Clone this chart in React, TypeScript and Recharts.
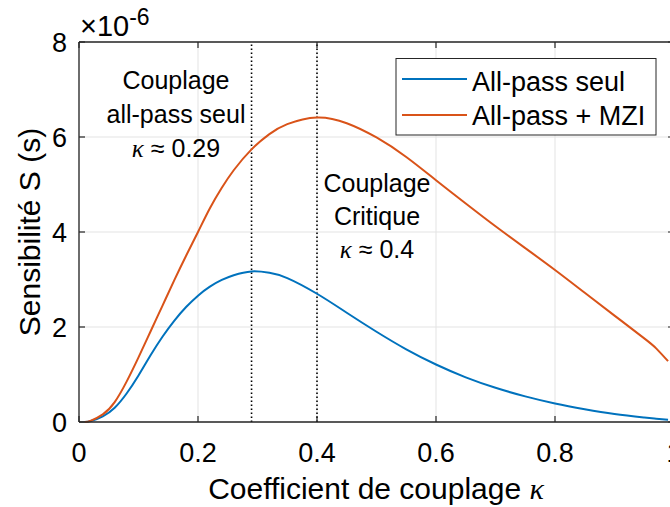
import { LineChart, Line, XAxis, YAxis, CartesianGrid, ReferenceLine } from "recharts";

// coupling coefficient (x) and sensitivity in units of 1e-6 s
const KAPPA = [
  0.01, 0.02, 0.04, 0.06, 0.08, 0.1, 0.12, 0.14, 0.16, 0.18, 0.2, 0.22, 0.24, 0.26, 0.29,
  0.32, 0.35, 0.4, 0.45, 0.5, 0.55, 0.6, 0.65, 0.7, 0.75, 0.8, 0.85, 0.9, 0.95, 0.97, 0.99,
];
const ALLPASS_SEUL = [
  0.0, 0.02, 0.12, 0.3, 0.6, 0.98, 1.4, 1.79, 2.13, 2.42, 2.66, 2.85, 2.99, 3.09, 3.17,
  3.14, 3.03, 2.7, 2.3, 1.9, 1.53, 1.21, 0.94, 0.72, 0.54, 0.39, 0.27, 0.17, 0.095, 0.068, 0.045,
];
const ALLPASS_MZI = [
  0.0, 0.03, 0.16, 0.42, 0.85, 1.36, 1.9, 2.44, 2.98, 3.5, 4.0, 4.5, 4.93, 5.3, 5.74,
  6.06, 6.27, 6.41, 6.29, 5.99, 5.58, 5.09, 4.6, 4.12, 3.66, 3.2, 2.72, 2.24, 1.76, 1.55, 1.28,
];
const X_TICKS = [0, 0.2, 0.4, 0.6, 0.8, 1];
const Y_TICKS = [0, 2, 4, 6, 8];
const MARKERS = [0.29, 0.4];

const data = KAPPA.map((k, i) => ({ k, seul: ALLPASS_SEUL[i], mzi: ALLPASS_MZI[i] }));

const W = 680;
const H = 507;
const MARGIN = { top: 42, right: 6, bottom: 0, left: 0 };
const Y_AXIS_W = 79;
const X_AXIS_H = 85;
const PLOT_W = W - MARGIN.left - MARGIN.right - Y_AXIS_W;
const PLOT_H = H - MARGIN.top - MARGIN.bottom - X_AXIS_H;

const AXIS = "#262626";
const BLUE = "#0072BD";
const ORANGE = "#D95319";
const FONT = "'Liberation Sans', Arial, Helvetica, sans-serif";
const MATH = "'Liberation Serif', 'DejaVu Serif', serif";

// eslint-disable-next-line @typescript-eslint/no-explicit-any
const XTick = ({ x, y, payload }: any) => (
  <g>
    <line x1={x} x2={x} y1={y} y2={y - 6} stroke={AXIS} strokeWidth={1.2} />
    <line x1={x} x2={x} y1={y - PLOT_H} y2={y - PLOT_H + 6} stroke={AXIS} strokeWidth={1.2} />
    <text x={x} y={y + 40} textAnchor="middle" fontSize={27} fontFamily={FONT} fill="#000">
      {payload.value}
    </text>
  </g>
);

// eslint-disable-next-line @typescript-eslint/no-explicit-any
const YTick = ({ x, y, payload }: any) => (
  <g>
    <line x1={x} x2={x + 6} y1={y} y2={y} stroke={AXIS} strokeWidth={1.2} />
    <line x1={x + PLOT_W - 6} x2={x + PLOT_W} y1={y} y2={y} stroke={AXIS} strokeWidth={1.2} />
    <text x={x - 12} y={y + 10} textAnchor="end" fontSize={27} fontFamily={FONT} fill="#000">
      {payload.value}
    </text>
  </g>
);

const Kappa = () => (
  <tspan fontFamily={MATH} fontStyle="italic">κ</tspan>
);

export default function App() {
  return (
    <div
      style={{
        position: "fixed",
        left: 0,
        top: 0,
        width: 670,
        height: 507,
        overflow: "hidden",
        background: "#fff",
      }}
    >
      <LineChart width={W} height={H} data={data} margin={MARGIN}>
        <CartesianGrid stroke="#e3e3e3" strokeWidth={1} />
        <XAxis
          dataKey="k"
          type="number"
          domain={[0, 1]}
          ticks={X_TICKS}
          height={X_AXIS_H}
          tickSize={0}
          tickMargin={0}
          tickLine={false}
          axisLine={{ stroke: AXIS, strokeWidth: 1.3 }}
          tick={<XTick />}
          interval={0}
        />
        <YAxis
          type="number"
          domain={[0, 8]}
          ticks={Y_TICKS}
          width={Y_AXIS_W}
          tickSize={0}
          tickMargin={0}
          tickLine={false}
          axisLine={{ stroke: AXIS, strokeWidth: 1.3 }}
          tick={<YTick />}
          interval={0}
        />
        <ReferenceLine y={8} stroke={AXIS} strokeWidth={1.3} />
        <ReferenceLine x={1} stroke={AXIS} strokeWidth={1.3} />
        {MARKERS.map((m) => (
          <ReferenceLine key={m} x={m} stroke="#000" strokeWidth={1.6} strokeDasharray="1.5 2.5" />
        ))}
        <Line
          dataKey="seul"
          type="natural"
          stroke={BLUE}
          strokeWidth={2}
          dot={false}
          isAnimationActive={false}
        />
        <Line
          dataKey="mzi"
          type="natural"
          stroke={ORANGE}
          strokeWidth={2}
          dot={false}
          isAnimationActive={false}
        />
      </LineChart>

      <svg
        width={670}
        height={507}
        style={{ position: "absolute", left: 0, top: 0, pointerEvents: "none" }}
        fontFamily={FONT}
      >
        {/* exponent */}
        <text x={80} y={36} fontSize={29} fill="#000">
          ×10<tspan dy={-11} fontSize={23}>-6</tspan>
        </text>

        {/* axis titles */}
        <text x={376} y={499} textAnchor="middle" fontSize={30} fill="#000">
          Coefficient de couplage <Kappa />
        </text>
        <text
          transform="translate(40,232) rotate(-90)"
          textAnchor="middle"
          fontSize={30}
          fill="#000"
        >
          Sensibilité S (s)
        </text>

        {/* annotations */}
        <g fontSize={25} fill="#000" textAnchor="middle">
          <text x={176} y={89}>Couplage</text>
          <text x={176} y={123}>all-pass seul</text>
          <text x={176} y={157}>
            <Kappa /> ≈ 0.29
          </text>
          <text x={377} y={191.5}>Couplage</text>
          <text x={377} y={224.5}>Critique</text>
          <text x={377} y={257.5}>
            <Kappa /> ≈ 0.4
          </text>
        </g>

        {/* legend */}
        <rect x={396} y={58.5} width={260} height={76.5} fill="#fff" stroke={AXIS} strokeWidth={1} />
        <line x1={402} x2={467} y1={79} y2={79} stroke={BLUE} strokeWidth={2} />
        <line x1={402} x2={467} y1={115} y2={115} stroke={ORANGE} strokeWidth={2} />
        <text x={472} y={90.5} fontSize={27} fill="#000">All-pass seul</text>
        <text x={472} y={125} fontSize={27} fill="#000">All-pass + MZI</text>
      </svg>
    </div>
  );
}
